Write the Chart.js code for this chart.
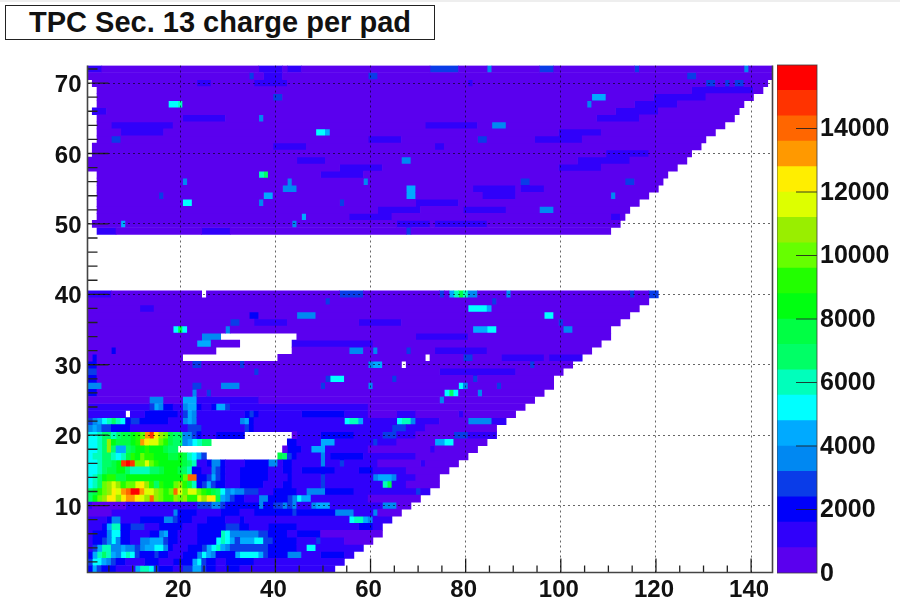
<!DOCTYPE html>
<html>
<head>
<meta charset="utf-8">
<title>TPC Sec. 13 charge per pad</title>
<script src="https://cdn.jsdelivr.net/npm/chart.js@4"></script>
<style>
html,body{margin:0;padding:0;background:#fff;overflow:hidden}
#topband{position:absolute;left:0;top:0;width:900px;height:2px;background:#eee}
#title{position:absolute;left:5px;top:5px;width:428px;height:33px;border:1.5px solid #222;font:bold 29px 'Liberation Sans',sans-serif;color:#111;text-align:center;line-height:33px;background:#fff}
#wrapMain{position:absolute;left:0;top:0;width:900px;height:607px}
#wrapBar{position:absolute;left:777px;top:0;width:123px;height:607px}
canvas{filter:blur(.7px);display:block}
</style>
</head>
<body>
<div id="topband"></div>
<div id="wrapMain"><canvas id="main" width="900" height="607"></canvas></div>
<div id="wrapBar"><canvas id="bar" width="123" height="607"></canvas></div>
<div id="title">TPC Sec. 13 charge per pad</div>
<script>
const xTicks = [20,40,60,80,100,120,140]
const xMinor = [5,10,15,25,30,35,45,50,55,65,70,75,85,90,95,105,110,115,125,130,135]
const yTicks = [10,20,30,40,50,60,70]
const yMinor = [2,4,6,8,12,14,16,18,22,24,26,28,32,34,36,38,42,44,46,48,52,54,56,58,62,64,66,68,72]
const zTicks = [0,2000,4000,6000,8000,10000,12000,14000]
const bandColors = ['#5a00ee','#3000fa','#0000fa','#0a3ce8','#0088f2','#00aaff','#00ffff','#00ffbb','#00ff66','#00ff44','#00ff11','#22ff00','#66ff00','#99ee00','#ddff00','#ffee00','#ff9900','#ff6600','#ff3300','#ff0000']
const bandWidth = 800

// last pad of rows 1..40
const padHiLow = [52,54,56,58,60,62,62,64,66,68,70,72,74,74,76,78,80,82,84,86,86,88,90,92,94,96,98,98,100,102,104,106,108,110,110,112,114,116,118,120]
// first and last pad of rows 49..72
const padHiUp = [110,112,113,114,116,118,120,121,122,124,126,127,129,130,132,134,136,137,138,140,142,143,144,144]
const padLoUp = [3,2,3,3,3,3,3,3,3,1,1,2,2,3,3,3,3,2,3,3,3,2,1,1]

// bands for pads 1..44, rows 1..24, 0-9 then a-j
const lowGrid = [
'25322211115776322211335532211222111111111111',
'36654322111122211122225632211222222111111111',
'25787546763222322111222465422225666653222244',
'13577445443455664211122235675433333333222222',
'12234642211445553221111222267653555663322222',
'12224662211112245221111222227644444433222211',
'11125772233311122222111222222333221111222222',
'11112441111222224432221112222111211111111111',
'00000111111111111142222111112222111222222223',
'10000000111111111111111333443222222242233434',
'8acdffdfggfedhdcbbdcdbbedff95432211144222234',
'89bcdfeghjjgeedcbcheceecba986454433311122222',
'678cdedbccefdb8baacdb9723532211122222111122',
'678abb99aaaaaaaaaaaachh22353211122222211112',
'667899aa87777889aaa987221143211122222211122',
'667889aijiccecbaaaaa98711244211112222244122',
'677887679bacbbaaa99a976530000000000000009832',
'6678d85589aabaaa98800000000000000000000000222',
'6678da999abgfeecb988456788000000000000000022',
'667887899abcgifdc988443211122222200000000000',
'45433222211111111111133311111111132111111111',
'34567876233222222111454111111111452111111111',
'11111111011122222221354111111111123211111111',
'11111111111113542211455211255311111111111111'
]

// [row, first pad, last pad, charge]
const patches = [
 [3,50,54,2000],[6,45,49,2000],[9,45,52,2000],[12,51,56,2000],[15,46,52,2000],[17,52,58,2000],[20,50,56,2000],[23,46,54,2000],
 [1,45,48,1200],[2,45,50,1200],[3,45,45,3600],[4,45,46,1200],[4,47,48,5200],[5,49,49,2800],[5,55,60,400],[6,50,62,400],[7,58,60,2000],
 [8,56,56,5200],[8,57,58,6000],[8,59,59,4400],[8,60,60,3600],[9,53,56,3600],[9,61,61,3600],[9,62,66,400],
 [10,48,48,3600],[10,49,51,4400],[10,63,65,3600],[10,66,68,400],[11,45,45,5200],[11,46,47,4400],[11,60,70,400],
 [12,47,50,3600],[12,70,70,2800],[13,50,50,2800],[13,63,63,6000],[13,64,64,7600],[13,68,74,400],[14,50,50,2800],[14,61,61,3600],[14,62,64,4400],[14,65,65,3600],[14,70,74,400],
 [15,58,60,2000],[15,68,76,400],[16,50,50,3600],[16,54,54,2800],[16,62,70,400],[16,72,78,400],[17,50,50,3600],[17,70,80,400],[18,48,50,4400],[18,60,72,400],[18,74,82,400],
 [19,50,52,4400],[19,61,61,2800],[19,66,73,400],[19,74,75,4400],[19,76,77,5200],[19,78,84,400],[20,63,65,2800],[20,78,80,2800],[20,70,77,400],[21,65,67,2800],[21,72,86,400],
 [22,55,55,5200],[22,56,57,6000],[22,58,58,4400],[22,66,66,5200],[22,67,68,6000],[22,69,69,3600],[22,75,80,400],[22,81,85,3200],[23,60,65,400],[23,70,78,400],[23,80,90,400],[24,60,92,400],
 [25,21,23,4400],[25,14,16,3600],[25,24,36,1200],[25,75,75,3600],[26,1,2,2000],[26,23,23,3600],[26,26,26,2800],[26,76,76,5200],[26,77,77,6800],[26,78,78,5200],[26,83,83,3600],
 [27,1,3,3600],[27,23,24,2800],[27,29,32,3600],[27,50,50,2800],[27,60,60,3600],[27,79,79,5200],[27,80,80,3600],[27,87,87,2800],
 [28,1,2,2000],[28,51,51,2800],[28,52,54,5200],[28,65,65,2800],[28,82,82,2800],[29,1,2,2800],[29,36,36,2800],[29,84,85,3600],[30,1,2,1600],[30,23,24,2800],[30,33,33,2800],[30,60,60,3600],[30,61,62,4400],[30,94,94,2800],
 [31,2,2,1600],[31,80,81,2800],[31,98,104,1200],[32,6,6,2000],[32,56,58,3600],[32,61,61,3600],[32,68,68,2800],[33,24,26,4400],[34,25,28,3600],[34,77,78,2800],
 [35,19,19,5200],[35,20,20,7600],[35,21,21,5200],[35,30,30,3600],[35,82,84,4400],[35,85,86,5200],[35,101,102,3600],[36,31,32,2800],[36,36,42,1200],[36,100,100,2800],
 [37,35,36,2000],[37,46,47,2800],[37,45,48,3600],[37,97,98,5200],[38,81,84,5200],[38,85,85,4400],[38,12,14,1200],[39,51,51,2800],[39,86,86,2800],
 [40,1,5,1200],[40,54,58,2800],[40,75,75,2800],[40,77,77,4400],[40,78,78,6000],[40,79,79,7600],[40,80,80,6000],[40,81,82,3600],[40,89,89,3600],[40,115,115,2800],[40,119,120,2800],
 [33,44,60,1200],[31,88,96,1200],[29,75,90,1200],[34,70,80,1200],[36,58,66,1200],[32,74,84,1200],
 [49,3,6,1200],[49,25,30,1200],[49,68,68,2800],[50,8,8,4400],[50,44,44,3600],[50,66,72,1200],[51,46,46,4400],[51,111,112,1200],[52,96,98,3600],[52,80,88,1200],
 [53,21,22,5200],[53,37,37,3600],[53,54,54,2800],[53,77,77,3600],[54,16,16,2800],[54,38,39,4400],[54,68,69,4400],[54,111,111,3600],[54,84,90,1200],[55,42,44,3600],[55,68,69,4400],[55,92,96,1200],
 [56,21,21,3600],[56,43,43,3600],[56,59,59,3600],[56,92,93,2800],[56,114,115,2800],[57,37,37,6000],[57,38,38,6800],[57,50,58,1200],[58,54,62,1200],[59,67,68,3600],[59,45,50,1200],
 [61,40,46,1200],[61,74,75,1200],[62,6,7,2800],[62,83,84,2800],[62,60,66,1200],[63,49,50,5200],[63,51,51,4400],[63,8,16,1200],[64,6,18,1200],[64,86,88,3600],
 [65,21,29,1200],[65,37,37,3600],[66,2,4,1200],[67,18,19,5200],[67,20,20,6000],[67,106,106,3600],[68,40,41,2800],[68,107,109,4400],[69,128,128,2800],
 [70,24,26,1200],[70,36,42,1200],[70,81,81,1200],[70,131,132,2800],[70,135,135,2800],[70,137,138,2800],[71,35,35,2800],[71,38,41,1200],[71,60,61,2800],[71,127,128,2800],
 [72,1,3,1200],[72,37,41,1200],[72,43,45,1200],[72,73,78,2800],[72,85,85,3600],[72,96,98,2800],[72,116,116,2800],[72,139,139,3600],
 [50,74,84,1200],[51,56,64,1200],[52,62,70,1200],[53,70,78,1200],[55,82,90,1200],[58,100,108,1200],[59,104,114,1200],[60,110,118,1200],
 [62,95,104,1200],[63,100,108,1200],[64,72,82,1200],[65,108,116,1200],[66,112,120,1200],[67,116,124,1200],[68,120,130,1200],[69,128,140,1200]
]

// [row, first pad, last pad] with no entries
const holes = [
 [40,25,25],[34,29,44],[33,33,43],[32,28,43],[31,21,40],[31,72,72],[30,67,67],
 [23,9,9],[20,34,43],[19,27,42],[18,20,41],[17,26,40]
]

function buildRows(){
  const rows = {}
  padHiLow.forEach((hi,i)=>{
    const r = i+1, cells = new Array(hi+1).fill(r<=24 ? 1 : 0)
    rows[r] = cells
    if(r<=24) [...lowGrid[i]].forEach((c,j)=>{ if(j+1<=hi) cells[j+1] = parseInt(c,20) })
  })
  padHiUp.forEach((hi,i)=>{
    const cells = new Array(hi+1).fill(0)
    for(let p=0;p<padLoUp[i];p++) cells[p] = null
    rows[i+49] = cells
  })
  patches.forEach(([r,a,b,q])=>{
    for(let p=a;p<=b && p<rows[r].length;p++) if(rows[r][p]!==null) rows[r][p] = Math.floor(q/bandWidth)
  })
  holes.forEach(([r,a,b])=>{ for(let p=a;p<=b;p++) rows[r][p] = null })
  return rows
}

function buildDatasets(){
  const rows = buildRows()
  const sets = bandColors.map(c=>({ data:[], backgroundColor:c, borderWidth:0, grouped:false, barPercentage:1, categoryPercentage:1 }))
  for(const r in rows){
    const cells = rows[r]
    let p = 1
    while(p<cells.length){
      const b = cells[p]
      let e = p
      while(e+1<cells.length && cells[e+1]===b) e++
      if(b!==null && b!==undefined) sets[b].data.push({ x:[p-.5,e+.5], y:+r })
      p = e+1
    }
  }
  return sets
}

const labelFont = { family:"'Liberation Sans',sans-serif", size:24, weight:'bold' }

// inward ticks and frame, ROOT style
const frame = {
  id:'frame',
  afterDatasetsDraw(c){
    const {ctx,chartArea:a,scales:{x,y}} = c
    ctx.save()
    ctx.strokeStyle = '#222'
    ctx.lineWidth = 1.3
    ctx.beginPath()
    xTicks.forEach(v=>{ const px=x.getPixelForValue(v); ctx.moveTo(px,a.bottom); ctx.lineTo(px,a.bottom-14) })
    xMinor.forEach(v=>{ const px=x.getPixelForValue(v); ctx.moveTo(px,a.bottom); ctx.lineTo(px,a.bottom-7) })
    yTicks.forEach(v=>{ const py=y.getPixelForValue(v); ctx.moveTo(a.left,py); ctx.lineTo(a.left+21,py) })
    yMinor.forEach(v=>{ const py=y.getPixelForValue(v); ctx.moveTo(a.left,py); ctx.lineTo(a.left+10,py) })
    ctx.stroke()
    ctx.strokeStyle = '#444'
    ctx.lineWidth = 1.6
    ctx.beginPath()
    ctx.moveTo(a.left,a.top); ctx.lineTo(a.left,a.bottom); ctx.lineTo(a.right,a.bottom); ctx.lineTo(a.right,a.top)
    ctx.stroke()
    ctx.restore()
  }
}

new Chart(document.getElementById('main'), {
  type:'bar',
  data:{ datasets:buildDatasets() },
  plugins:[frame],
  options:{
    indexAxis:'y', responsive:false, animation:false, events:[],
    layout:{ padding:{ top:65.5, right:127.5, left:0, bottom:0 } },
    plugins:{ legend:{display:false}, tooltip:{enabled:false}, title:{display:false} },
    scales:{
      x:{ type:'linear', min:.5, max:144.5, position:'bottom',
        afterBuildTicks(s){ s.ticks = xTicks.map(value=>({value})) },
        afterFit(s){ s.height = 34.5 },
        grid:{ z:1, color:'rgba(0,0,0,.6)', lineWidth:1, drawTicks:false },
        border:{ display:false, dash:[2,3] },
        ticks:{ font:labelFont, color:'#111', padding:3, labelOffset:-2, maxRotation:0, autoSkip:false }
      },
      y:{ type:'linear', min:.5, max:72.5, offset:false,
        afterBuildTicks(s){ s.ticks = yTicks.map(value=>({value})) },
        afterFit(s){ s.width = 87.5 },
        grid:{ z:1, offset:false, color:'rgba(0,0,0,.6)', lineWidth:1, drawTicks:false },
        border:{ display:false, dash:[2,3] },
        ticks:{ font:labelFont, color:'#111', padding:6, labelOffset:2.5, autoSkip:false }
      }
    }
  }
})

const barTicks = {
  id:'barTicks',
  afterDatasetsDraw(c){
    const {ctx,chartArea:a,scales:{y}} = c
    ctx.save()
    ctx.strokeStyle = 'rgba(30,30,30,.85)'
    ctx.lineWidth = 1.2
    ctx.beginPath()
    zTicks.forEach(v=>{ if(v===0) return; const py=y.getPixelForValue(v); ctx.moveTo(a.right-21,py); ctx.lineTo(a.right,py) })
    ctx.stroke()
    ctx.strokeStyle = 'rgba(60,60,60,.8)'
    ctx.lineWidth = 1
    ctx.strokeRect(a.left,a.top,a.right-a.left,a.bottom-a.top)
    ctx.restore()
  }
}

new Chart(document.getElementById('bar'), {
  type:'bar',
  data:{ labels:['z'], datasets:bandColors.map(c=>({ data:[bandWidth], backgroundColor:c, borderWidth:0, barPercentage:1, categoryPercentage:1, stack:'z' })) },
  plugins:[barTicks],
  options:{
    responsive:false, animation:false, events:[],
    layout:{ padding:{ top:65, bottom:34 } },
    plugins:{ legend:{display:false}, tooltip:{enabled:false} },
    scales:{
      x:{ display:false, stacked:true },
      y:{ type:'linear', position:'right', stacked:true, min:0, max:bandWidth*bandColors.length,
        afterBuildTicks(s){ s.ticks = zTicks.map(value=>({value})) },
        afterFit(s){ s.width = 83 },
        grid:{ display:false, drawTicks:false },
        border:{ display:false },
        ticks:{ font:{...labelFont,size:25}, color:'#111', padding:3, labelOffset:1, autoSkip:false, callback:v=>String(v) }
      }
    }
  }
})
</script>
</body>
</html>
